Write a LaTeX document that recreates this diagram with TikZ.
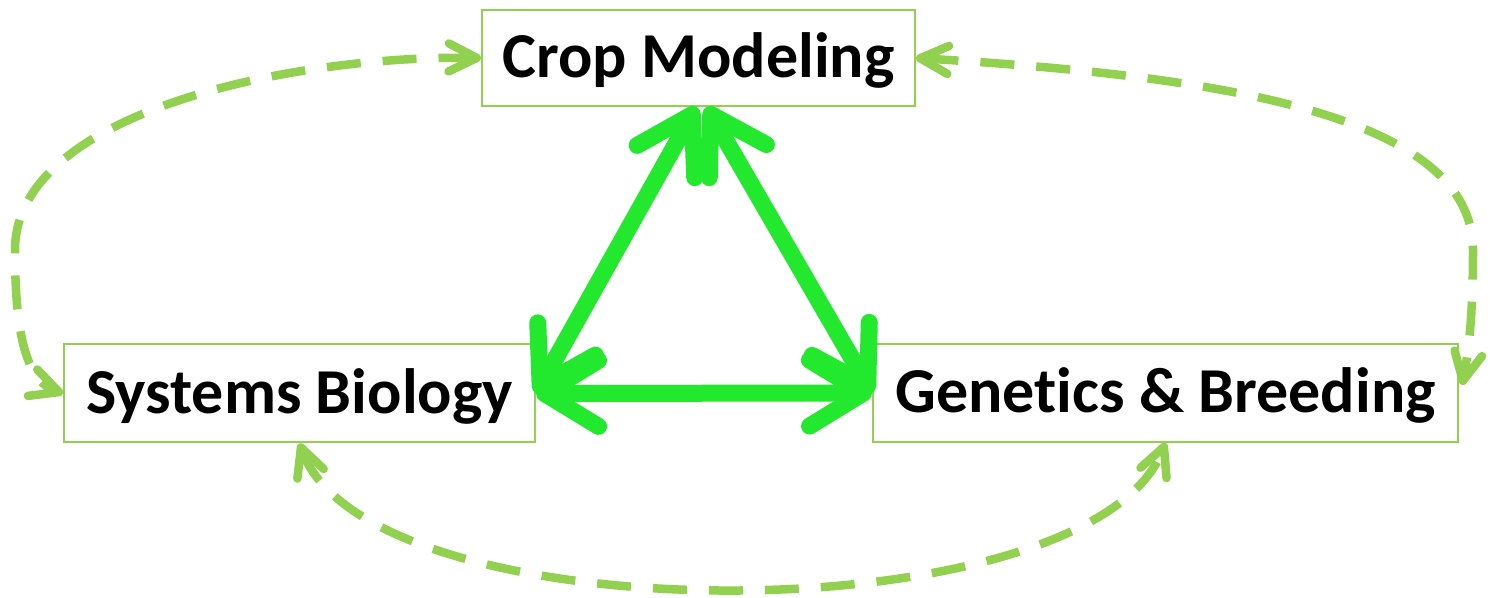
\documentclass[tikz,border=0pt]{standalone}
\usepackage{fontspec}
\setmainfont{Carlito}[Ligatures=NoCommon]
\usetikzlibrary{arrows.meta}
\definecolor{LeafGreen}{HTML}{92D050}
\definecolor{BrightGreen}{HTML}{22E82E}

\tikzset{
  topicbox/.style={draw=LeafGreen,line width=1pt,inner sep=0pt,minimum height=48pt,
    text depth=2.5pt,font=\fontsize{32}{36}\selectfont\bfseries},
  linkarrow/.style={BrightGreen,line width=8.5pt,line cap=round,
    >={Straight Barb[length=27pt,width=33pt,round]},<->},
  loopback/.style={LeafGreen,line width=4.25pt,dash pattern=on 17pt off 11pt,
    >={Straight Barb[length=14pt,width=14pt,round]},<->}
}

\begin{document}
\begin{tikzpicture}[x=0.5pt,y=-0.5pt]
  \useasboundingbox (0,0) rectangle (1490,598);
  \node[topicbox,minimum width=216.5pt] (crop) at (698.5,58) {Crop Modeling};
  \node[topicbox,minimum width=235.5pt,minimum height=49pt] (sysbio) at (299.5,393.5) {Systems Biology};
  \node[topicbox,minimum width=292.5pt,minimum height=49pt] (genetics) at (1165.5,393) {Genetics \& Breeding};
  % solid links between the three fields
  \draw[linkarrow] ([xshift=-1pt]crop.south) -- (sysbio.east);
  \draw[linkarrow] ([xshift=4pt]crop.south) -- (genetics.west);
  \draw[linkarrow] (sysbio.east) -- (genetics.west);
  % dashed loops round the outside
  \draw[loopback] (crop.west) .. controls (300,55) and (15,110) .. (15,250)
    .. controls (15,330) and (25,380) .. (sysbio.west);
  \draw[loopback] (crop.east) .. controls (1200,75) and (1473,110) .. (1473,250)
    .. controls (1473,320) and (1468,355) .. ([xshift=1.5pt,yshift=4pt]genetics.east);
  \draw[loopback] (sysbio.south) .. controls (370,637) and (1088,637) .. (genetics.south);
\end{tikzpicture}
\end{document}
